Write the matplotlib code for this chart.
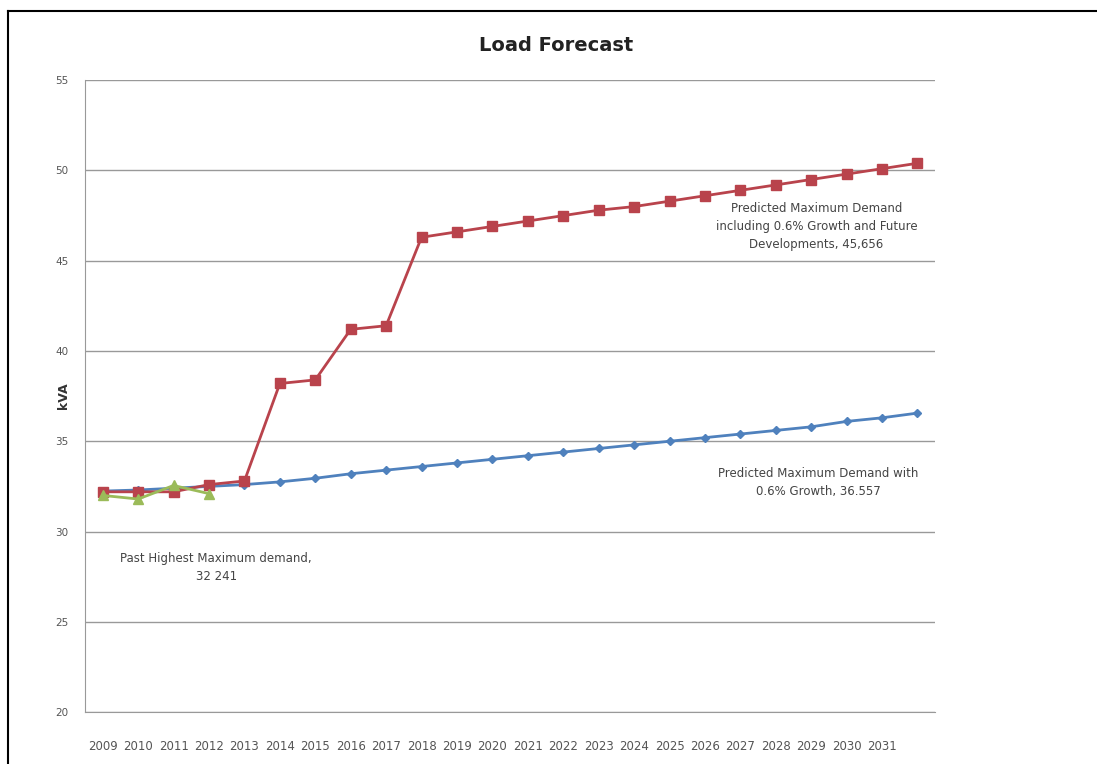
import matplotlib
matplotlib.use("Agg")
import matplotlib.pyplot as plt
from matplotlib.lines import Line2D

years = ["2009", "2010", "2011", "2012", "2013", "2014", "2015", "2016", "2017", "2018",
         "2019", "2020", "2021", "2022", "2023", "2024", "2025", "2026", "2027", "2028",
         "2029", "2030", "2031", ""]
future_dev = [32.2, 32.2, 32.2, 32.6, 32.8, 38.2, 38.4, 41.2, 41.4, 46.3, 46.6, 46.9,
              47.2, 47.5, 47.8, 48.0, 48.3, 48.6, 48.9, 49.2, 49.5, 49.8, 50.1, 50.4]
growth = [32.24, 32.3, 32.4, 32.5, 32.6, 32.75, 32.95, 33.2, 33.4, 33.6, 33.8, 34.0,
          34.2, 34.4, 34.6, 34.8, 35.0, 35.2, 35.4, 35.6, 35.8, 36.1, 36.3, 36.56]
past = [32.0, 31.8, 32.55, 32.1]
y_ticks = [20, 25, 30, 35, 40, 45, 50, 55]

fig = plt.figure(figsize=(10.97, 7.64), dpi=100)
ax = fig.add_axes([0.0775, 0.068, 0.775, 0.827])

x = list(range(len(years)))
ax.plot(x, growth, color="#4F81BD", marker="D", markersize=4.5, linewidth=2, zorder=3)
ax.plot(x, future_dev, color="#B9434C", marker="s", markersize=6.5, linewidth=2, zorder=4)
ax.plot(x[:len(past)], past, color="#9BBB59", marker="^", markersize=6.5, linewidth=2, zorder=5)

ax.set_xlim(-0.5, len(years) - 0.5)
ax.set_ylim(20, 55)
ax.set_yticks(y_ticks)
ax.set_yticklabels([str(v) for v in y_ticks], fontsize=7.5, color="#555555")
ax.set_xticks(x)
ax.set_xticklabels(years, fontsize=8.5, color="#555555")
ax.tick_params(axis="y", length=0, pad=12)
ax.tick_params(axis="x", length=0, pad=20)
ax.grid(axis="y", color="#999999", linewidth=1)
ax.set_axisbelow(True)
for s in ["top", "right"]:
    ax.spines[s].set_visible(False)
ax.spines["left"].set_color("#999999")
ax.spines["bottom"].set_color("#999999")
ax.set_ylabel("kVA", fontsize=9, fontweight="bold", color="#333333")
ax.yaxis.set_label_coords(-0.018, 0.50)

fig.text(0.507, 0.94, "Load Forecast", ha="center", va="center", fontsize=14, fontweight="bold", color="#222222")

ax.text(3.2, 28.0, "Past Highest Maximum demand,\n32 241", ha="center", va="center",
        fontsize=8.5, color="#444444", linespacing=1.5)
ax.text(20.15, 46.9, "Predicted Maximum Demand\nincluding 0.6% Growth and Future\nDevelopments, 45,656",
        ha="center", va="center", fontsize=8.5, color="#444444", linespacing=1.5)
ax.text(20.2, 32.7, "Predicted Maximum Demand with\n0.6% Growth, 36.557", ha="center", va="center",
        fontsize=8.5, color="#444444", linespacing=1.5)

# outer frame lines (top and left)
fig.add_artist(Line2D([8 / 1097, 1.0], [1 - 11 / 764, 1 - 11 / 764], color="black", linewidth=1.5,
                      transform=fig.transFigure))
fig.add_artist(Line2D([8 / 1097, 8 / 1097], [0.0, 1 - 11 / 764], color="black", linewidth=1.5,
                      transform=fig.transFigure))

fig.savefig("out.png", dpi=100)
